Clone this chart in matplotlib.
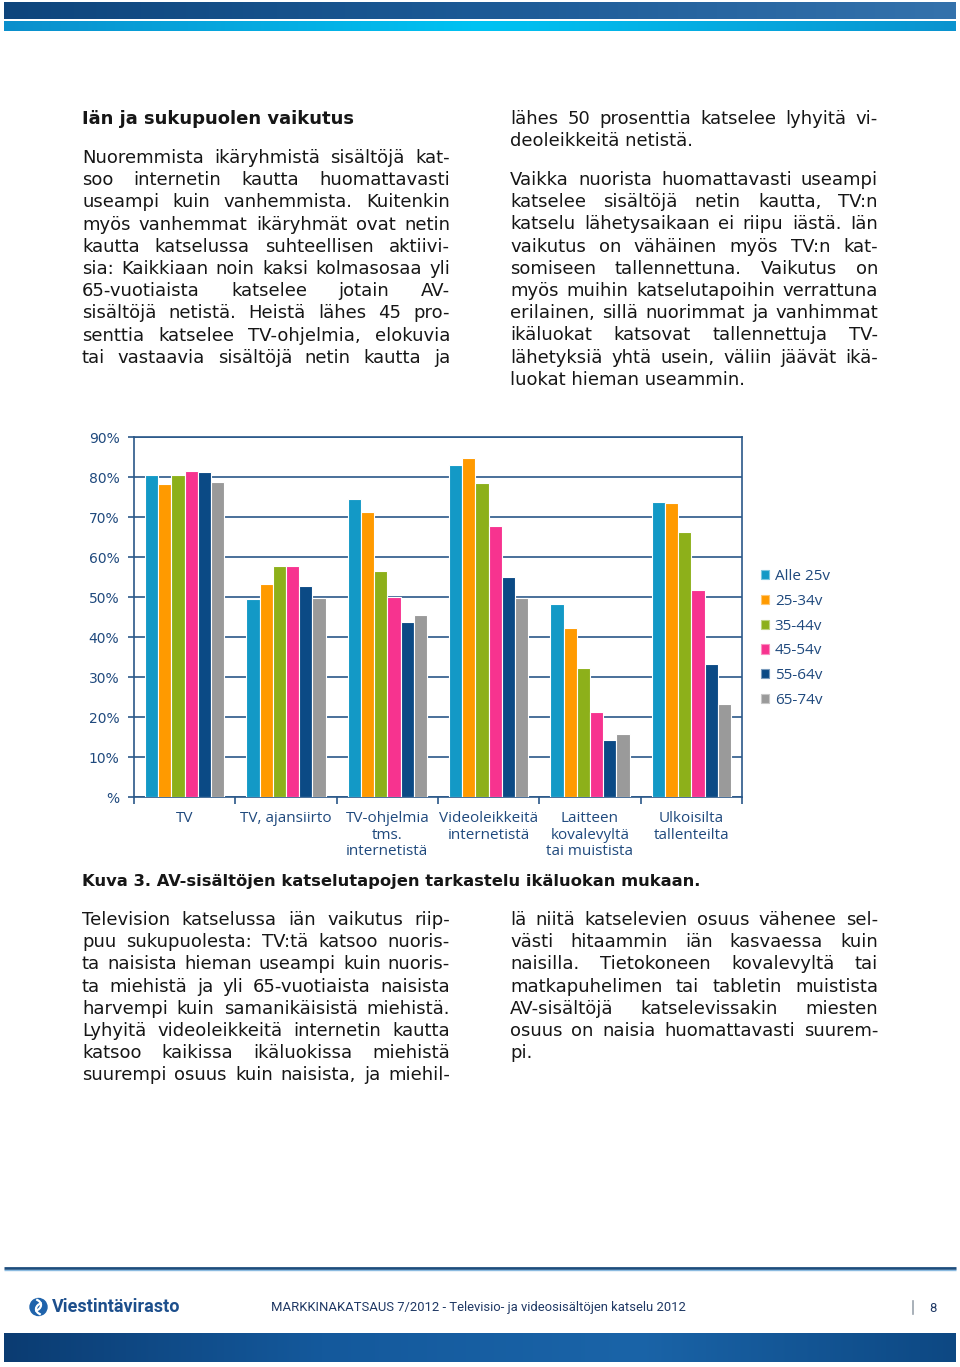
"""
Markkinakatsaus 7/2012, page 8: AV-sisältöjen katselutavat ikäluokittain.
Recreates the whole page (text columns, bar chart, header and footer).
"""

import numpy as np
import matplotlib
matplotlib.use("Agg")
import matplotlib.pyplot as plt
from matplotlib.patches import Patch, Circle, Arc
from matplotlib.font_manager import FontProperties
from matplotlib.colors import to_rgb

W, H = 960, 1367

# ── Chart data ───────────────────────────────────────────────────────────────
CATEGORIES = [
    "TV",
    "TV, ajansiirto",
    "TV-ohjelmia\ntms.\ninternetistä",
    "Videoleikkeitä\ninternetistä",
    "Laitteen\nkovalevyltä\ntai muistista",
    "Ulkoisilta\ntallenteilta",
]
AGE_GROUPS = ["Alle 25v", "25-34v", "35-44v", "45-54v", "55-64v", "65-74v"]

ALLE_25   = [80.5, 49.4, 74.5, 83.1, 48.2, 73.7]
AGE_25_34 = [78.3, 53.3, 71.2, 84.7, 42.2, 73.5]
AGE_35_44 = [80.5, 57.8, 56.5, 78.5, 32.2, 66.2]
AGE_45_54 = [81.5, 57.8, 50.0, 67.8, 21.2, 51.8]
AGE_55_64 = [81.2, 52.8, 43.7, 55.0, 14.2, 33.2]
AGE_65_74 = [78.7, 49.7, 45.5, 49.7, 15.7, 23.2]

Y_TICKS = [0, 10, 20, 30, 40, 50, 60, 70, 80, 90]
Y_TICK_LABELS = ["%", "10%", "20%", "30%", "40%", "50%", "60%", "70%", "80%", "90%"]

AGE_COLORS = ["#1399c6", "#ff9a00", "#8db01a", "#f7338f", "#0b4a85", "#9a9a9a"]

# ── Page text ────────────────────────────────────────────────────────────────
HEADING = "Iän ja sukupuolen vaikutus"
CAPTION = "Kuva 3. AV-sisältöjen katselutapojen tarkastelu ikäluokan mukaan."

LEFT_TOP = [
    "Nuoremmista ikäryhmistä sisältöjä kat-",
    "soo internetin kautta huomattavasti",
    "useampi kuin vanhemmista. Kuitenkin",
    "myös vanhemmat ikäryhmät ovat netin",
    "kautta katselussa suhteellisen aktiivi-",
    "sia: Kaikkiaan noin kaksi kolmasosaa yli",
    "65-vuotiaista katselee jotain AV-",
    "sisältöjä netistä. Heistä lähes 45 pro-",
    "senttia katselee TV-ohjelmia, elokuvia",
    "tai vastaavia sisältöjä netin kautta ja",
]
RIGHT_TOP_1 = [
    "lähes 50 prosenttia katselee lyhyitä vi-",
    "deoleikkeitä netistä.",
]
RIGHT_TOP_2 = [
    "Vaikka nuorista huomattavasti useampi",
    "katselee sisältöjä netin kautta, TV:n",
    "katselu lähetysaikaan ei riipu iästä. Iän",
    "vaikutus on vähäinen myös TV:n kat-",
    "somiseen tallennettuna. Vaikutus on",
    "myös muihin katselutapoihin verrattuna",
    "erilainen, sillä nuorimmat ja vanhimmat",
    "ikäluokat katsovat tallennettuja TV-",
    "lähetyksiä yhtä usein, väliin jäävät ikä-",
    "luokat hieman useammin.",
]
LEFT_BOTTOM = [
    "Television katselussa iän vaikutus riip-",
    "puu sukupuolesta: TV:tä katsoo nuoris-",
    "ta naisista hieman useampi kuin nuoris-",
    "ta miehistä ja yli 65-vuotiaista naisista",
    "harvempi kuin samanikäisistä miehistä.",
    "Lyhyitä videoleikkeitä internetin kautta",
    "katsoo kaikissa ikäluokissa miehistä",
    "suurempi osuus kuin naisista, ja miehil-",
]
RIGHT_BOTTOM = [
    "lä niitä katselevien osuus vähenee sel-",
    "västi hitaammin iän kasvaessa kuin",
    "naisilla. Tietokoneen kovalevyltä tai",
    "matkapuhelimen tai tabletin muistista",
    "AV-sisältöjä katselevissakin miesten",
    "osuus on naisia huomattavasti suurem-",
    "pi.",
]
FOOTER_TEXT = "MARKKINAKATSAUS 7/2012 - Televisio- ja videosisältöjen katselu 2012"
PAGE_NO = "8"

TEXT_COLOR  = "#161616"
CHART_TEXT  = "#1f497d"
GRID_COLOR  = "#2a5889"
LINE_STEP   = 22.2

fig = plt.figure(figsize=(W / 100, H / 100), dpi=100)
fig.patch.set_facecolor("white")

# page axes in pixel coordinates (y grows downwards)
pg = fig.add_axes([0, 0, 1, 1])
pg.set_axis_off()

renderer = fig.canvas.get_renderer()
body_font = FontProperties(family="DejaVu Sans", size=13)


def gradient_bar(x0, x1, y0, y1, colors):
    stops = np.array([to_rgb(c) for c in colors])
    xs = np.linspace(0, 1, 256)
    pos = np.linspace(0, 1, len(stops))
    img = np.stack([np.interp(xs, pos, stops[:, k]) for k in range(3)], axis=-1)[None, :, :]
    pg.imshow(img, extent=(x0, x1, y1, y0), aspect="auto", interpolation="bilinear", zorder=1)


def text_block(lines, x0, x1, y0, last_left=True):
    """Justified lines; the last line of a paragraph stays left aligned"""
    for i, line in enumerate(lines):
        y = y0 + i * LINE_STEP
        words = line.split(" ")
        if (last_left and i == len(lines) - 1) or len(words) == 1:
            pg.text(x0, y, line, fontproperties=body_font, color=TEXT_COLOR, va="baseline")
            continue
        widths = [renderer.get_text_width_height_descent(w, body_font, ismath=False)[0] for w in words]
        gap = (x1 - x0 - sum(widths)) / (len(words) - 1)
        x = x0
        for word, wd in zip(words, widths):
            pg.text(x, y, word, fontproperties=body_font, color=TEXT_COLOR, va="baseline")
            x += wd + gap


# ── Header bars ──────────────────────────────────────────────────────────────
gradient_bar(4, 956, 2, 19, ["#0e457c", "#1c5a96", "#3472ac"])
gradient_bar(4, 956, 21, 31, ["#0b8fcc", "#00c3f3", "#0a93cf"])

# ── Body text ────────────────────────────────────────────────────────────────
pg.text(82, 124, HEADING, family="DejaVu Sans", size=13, weight="bold", color=TEXT_COLOR, va="baseline")
text_block(LEFT_TOP, 82, 450, 163, last_left=False)
text_block(RIGHT_TOP_1, 510, 878, 124)
text_block(RIGHT_TOP_2, 510, 878, 185)

pg.text(82, 886, CAPTION, family="DejaVu Sans", size=11.8, weight="bold", color=TEXT_COLOR, va="baseline")
text_block(LEFT_BOTTOM, 82, 450, 925, last_left=False)
text_block(RIGHT_BOTTOM, 510, 878, 925)

# ── Footer ───────────────────────────────────────────────────────────────────
pg.plot([4, 956], [1267.5, 1267.5], color="#1d4c7c", lw=2, solid_capstyle="butt", zorder=2)
pg.plot([4, 956], [1269.5, 1269.5], color="#8cbbe0", lw=1, solid_capstyle="butt", zorder=2)

pg.add_patch(Circle((38.5, 1307), 8.5, color="#1f63ab", zorder=3))
pg.add_patch(Arc((33, 1305), 16, 12, theta1=-60, theta2=70, color="white", lw=1.6, zorder=4))
pg.add_patch(Arc((44, 1309), 16, 12, theta1=120, theta2=250, color="white", lw=1.6, zorder=4))
pg.text(52, 1307, "Viestintävirasto", family="Roboto", weight="bold", size=13,
        color="#1d4f8c", va="center")

pg.text(271, 1308, FOOTER_TEXT, family="Roboto", size=9.4, color="#1f3864", va="center")
pg.plot([913, 913], [1301, 1314], color="#9aa3ad", lw=1.2, zorder=2)
pg.text(933, 1308, PAGE_NO, family="Roboto", size=9.4, color="#1f3864", va="center", ha="center")

gradient_bar(4, 956, 1333, 1362, ["#0b3c72", "#14599c", "#1a64a8", "#0d4883"])

pg.set_xlim(0, W)
pg.set_ylim(H, 0)

# ── Bar chart ────────────────────────────────────────────────────────────────
ax = fig.add_axes([134 / W, 1 - 797 / H, (742 - 134) / W, (797 - 437) / H])
series = [ALLE_25, AGE_25_34, AGE_35_44, AGE_45_54, AGE_55_64, AGE_65_74]
x = np.arange(len(CATEGORIES))
bw = 0.13

for j, (vals, color) in enumerate(zip(series, AGE_COLORS)):
    ax.bar(x + (j - 2.5) * bw, vals, bw, color=color, edgecolor="white", linewidth=0.8, zorder=3)

ax.set_xlim(-0.5, len(CATEGORIES) - 0.5)
ax.set_ylim(0, 90)
ax.set_yticks(Y_TICKS)
ax.set_yticklabels(Y_TICK_LABELS, family="DejaVu Sans", fontsize=10, color=CHART_TEXT)
ax.tick_params(axis="y", length=4.5, width=1.2, color=GRID_COLOR, pad=6)

ax.set_xticks(x)
ax.set_xticklabels(CATEGORIES, family="Open Sans", fontsize=11, color=CHART_TEXT, linespacing=1.15)
ax.set_xticks(np.arange(-0.5, len(CATEGORIES), 1), minor=True)
ax.tick_params(axis="x", which="major", length=0, pad=10)
ax.tick_params(axis="x", which="minor", length=5, width=1.2, color=GRID_COLOR)

ax.grid(True, axis="y", color=GRID_COLOR, linewidth=1.2)
ax.set_axisbelow(True)
for side in ["left", "right", "top", "bottom"]:
    ax.spines[side].set_color(GRID_COLOR)
    ax.spines[side].set_linewidth(1.2)

handles = []
for color in AGE_COLORS:
    edge = 0.55 * np.array(to_rgb(color)) + 0.45
    handles.append(Patch(facecolor=color, edgecolor=edge, linewidth=0.8))
leg = fig.legend(handles, AGE_GROUPS, loc="upper left", bbox_to_anchor=(761, 569),
                 bbox_transform=pg.transData, frameon=False, prop={"family": "Open Sans", "size": 11},
                 handlelength=0.55, handleheight=0.55, handletextpad=0.35, labelspacing=0.64,
                 borderpad=0, borderaxespad=0)
for t in leg.get_texts():
    t.set_color(CHART_TEXT)

plt.savefig("out.png", dpi=100)
